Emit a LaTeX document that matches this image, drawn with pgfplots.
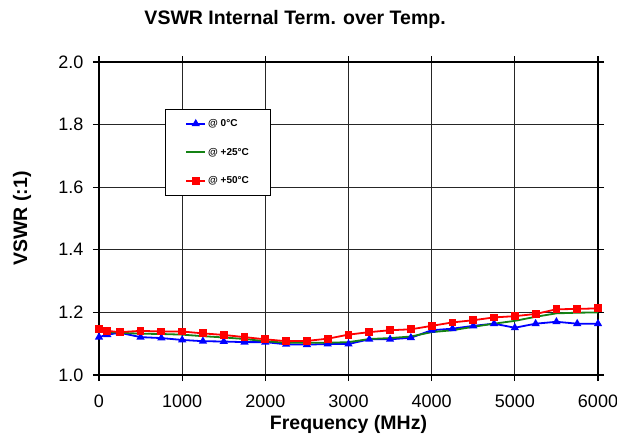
\documentclass[border=0pt]{standalone}
\usepackage{fontspec}
\setmainfont{Liberation Sans}
\usepackage{pgfplots}
\pgfplotsset{compat=1.18}

\definecolor{vblue}{RGB}{0,0,255}
\definecolor{vgreen}{RGB}{20,130,20}
\definecolor{vred}{RGB}{255,0,0}

\begin{document}
\begin{tikzpicture}
\useasboundingbox (-99pt,-62pt) rectangle (518pt,375pt);
\begin{axis}[
    scale only axis,
    width=499pt, height=313pt,
    xmin=0, xmax=6000, ymin=1.0, ymax=2.0,
    xtick={0,1000,...,6000},
    ytick={1.0,1.2,...,2.0},
    /pgf/number format/assume math mode=true,
    /pgf/number format/set thousands separator={},
    yticklabel style={/pgf/number format/fixed,/pgf/number format/fixed zerofill,/pgf/number format/precision=1, xshift=-6pt},
    xticklabel style={yshift=-10pt},
    tick label style={font=\fontsize{18}{20}\selectfont},
    tick align=outside, major tick length=6pt,
    tick style={black, line width=1.2pt},
    grid=major,
    major grid style={black!85, line width=1.3pt},
    axis line style={black, line width=1.4pt},
    title={VSWR Internal Term. over Temp.},
    title style={font=\bfseries\fontsize{19.5}{22}\selectfont, at={(0.393,1)}, anchor=base, yshift=32pt},
    xlabel={Frequency (MHz)},
    xlabel style={font=\bfseries\fontsize{19.5}{22}\selectfont, at={(axis description cs:0.5,0)}, anchor=base, yshift=-54pt},
    ylabel={VSWR (:1)},
    ylabel style={font=\bfseries\fontsize{19.5}{22}\selectfont, at={(axis description cs:-0.154,0.5)}, anchor=center},
    legend style={at={(0.132,0.85)}, anchor=north west, draw=black, line width=1pt,
        font=\bfseries\fontsize{10}{12}\selectfont, inner xsep=20pt, inner ysep=8pt,
        row sep=16pt, cells={anchor=west}},
    legend image code/.code={\draw[mark repeat=2,mark phase=2] plot coordinates {(0pt,0pt)(9.5pt,0pt)(19pt,0pt)};},
]
\addplot[vblue, line width=1.8pt, mark=triangle*, mark size=3pt] coordinates {
 (0,1.121) (100,1.129) (250,1.135) (500,1.121) (750,1.118) (1000,1.112)
 (1250,1.108) (1500,1.107) (1750,1.105) (2000,1.105) (2250,1.098) (2500,1.097)
 (2750,1.099) (3000,1.099) (3250,1.114) (3500,1.114) (3750,1.119) (4000,1.143)
 (4250,1.148) (4500,1.157) (4750,1.164) (5000,1.151) (5250,1.164) (5500,1.170)
 (5750,1.164) (6000,1.164)};
\addlegendentry{@ 0°C}
\addplot[vgreen, line width=1.8pt, mark=none] coordinates {
 (0,1.140) (100,1.137) (250,1.135) (500,1.132) (750,1.131) (1000,1.129)
 (1250,1.124) (1500,1.120) (1750,1.115) (2000,1.108) (2250,1.103) (2500,1.103)
 (2750,1.103) (3000,1.105) (3250,1.115) (3500,1.118) (3750,1.123) (4000,1.137)
 (4250,1.143) (4500,1.154) (4750,1.164) (5000,1.173) (5250,1.186) (5500,1.197)
 (5750,1.199) (6000,1.200)};
\addlegendentry{@ +25°C}
\addplot[vred, line width=1.8pt, mark=square*, mark size=3pt] coordinates {
 (0,1.148) (100,1.141) (250,1.137) (500,1.141) (750,1.139) (1000,1.139)
 (1250,1.133) (1500,1.128) (1750,1.121) (2000,1.114) (2250,1.108) (2500,1.109)
 (2750,1.116) (3000,1.129) (3250,1.137) (3500,1.143) (3750,1.146) (4000,1.157)
 (4250,1.168) (4500,1.175) (4750,1.184) (5000,1.188) (5250,1.195) (5500,1.210)
 (5750,1.211) (6000,1.213)};
\addlegendentry{@ +50°C}
\end{axis}
\end{tikzpicture}
\end{document}
